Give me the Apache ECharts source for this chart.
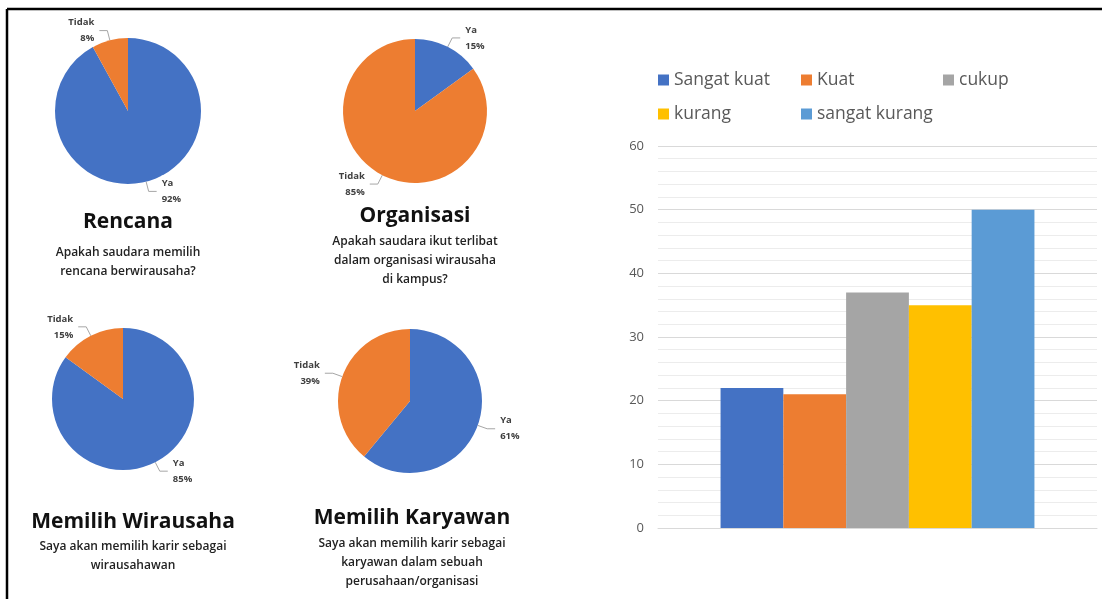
<!DOCTYPE html>
<html>
<head>
<meta charset="utf-8">
<script src="https://cdn.jsdelivr.net/npm/echarts@6/dist/echarts.min.js"></script>
<style>
html,body{margin:0;padding:0;background:#fff;}
#c{width:1103px;height:599px;}
</style>
</head>
<body>
<div id="c"></div>
<script>
// ---- data ----
var pieLabels = ['Ya', 'Tidak'];
var rencanaValues = [92, 8];
var organisasiValues = [15, 85];
var wirausahaValues = [85, 15];
var karyawanValues = [61, 39];

var pieTitles = ['Rencana', 'Organisasi', 'Memilih Wirausaha', 'Memilih Karyawan'];
var pieSubtitles = [
  'Apakah saudara memilih\nrencana berwirausaha?',
  'Apakah saudara ikut terlibat\ndalam organisasi wirausaha\ndi kampus?',
  'Saya akan memilih karir sebagai\nwirausahawan',
  'Saya akan memilih karir sebagai\nkaryawan dalam sebuah\nperusahaan/organisasi'
];

var barCategories = [''];
var barSeriesNames = ['Sangat kuat', 'Kuat', 'cukup', 'kurang', 'sangat kurang'];
var barValues = [22, 21, 37, 35, 50];
var yTicks = [0, 10, 20, 30, 40, 50, 60];

// ---- styles ----
var FONT = "'Open Sans', 'Noto Sans', sans-serif";
var pieColors = ['#4472C4', '#ED7D31'];
var barColors = ['#4472C4', '#ED7D31', '#A5A5A5', '#FFC000', '#5B9BD5'];

var pieLayout = [
  {center: [128, 111], r: 73, title: [128, 222], sub: [128, 243]},
  {center: [415, 111], r: 72, title: [415, 216], sub: [415, 232]},
  {center: [123, 399], r: 71, title: [133, 522], sub: [133, 537]},
  {center: [410, 401], r: 72, title: [412, 518], sub: [412, 534]}
];
var pieValueSets = [rencanaValues, organisasiValues, wirausahaValues, karyawanValues];

var series = [];
pieValueSets.forEach(function (vals, i) {
  series.push({
    type: 'pie',
    center: pieLayout[i].center,
    radius: pieLayout[i].r,
    startAngle: 90,
    clockwise: true,
    silent: true,
    data: pieLabels.map(function (n, k) {
      return {name: n, value: vals[k], itemStyle: {color: pieColors[k]}};
    }),
    label: {
      show: true,
      position: 'outside',
      formatter: '{b}\n{c}%',
      fontFamily: FONT,
      fontSize: 9.5,
      fontWeight: 'bold',
      color: '#404040',
      lineHeight: 16,
      backgroundColor: '#fff'
    },
    labelLine: {show: true, length: 10, length2: 8, lineStyle: {color: '#a6a6a6', width: 1}},
    itemStyle: {borderWidth: 0}
  });
});

barSeriesNames.forEach(function (n, i) {
  series.push({
    type: 'bar',
    name: n,
    xAxisIndex: 0,
    yAxisIndex: 0,
    data: [barValues[i]],
    itemStyle: {color: barColors[i]},
    barGap: '0%',
    barCategoryGap: '28.5%'
  });
});

var legendPos = [[658, 71], [801, 71], [943, 71], [658, 105], [801, 105]];
var legends = barSeriesNames.map(function (n, i) {
  return {
    data: [n],
    left: legendPos[i][0],
    top: legendPos[i][1],
    icon: 'rect',
    itemWidth: 11,
    itemHeight: 11,
    itemGap: 0,
    padding: 0,
    selectedMode: false,
    textStyle: {fontFamily: FONT, fontSize: 17.5, color: '#595959', padding: [0, 0, 0, 0]}
  };
});

var graphics = [
  {type: 'line', shape: {x1: 7, y1: 9, x2: 1102, y2: 9}, style: {stroke: '#000', lineWidth: 2.5}},
  {type: 'line', shape: {x1: 7, y1: 9, x2: 7, y2: 599}, style: {stroke: '#000', lineWidth: 2.5}}
];
pieTitles.forEach(function (t, i) {
  graphics.push({
    type: 'text', x: pieLayout[i].title[0], y: pieLayout[i].title[1],
    style: {text: t, fontFamily: FONT, fontSize: 21, fontWeight: 'bold', fill: '#111', textAlign: 'center', textVerticalAlign: 'middle'}
  });
  graphics.push({
    type: 'text', x: pieLayout[i].sub[0], y: pieLayout[i].sub[1],
    style: {text: pieSubtitles[i], fontFamily: FONT, fontSize: 12, fontWeight: 600, fill: '#222', textAlign: 'center', textVerticalAlign: 'top', lineHeight: 19}
  });
});

var chart = echarts.init(document.getElementById('c'));
chart.setOption({
  backgroundColor: '#fff',
  animation: false,
  legend: legends,
  grid: {left: 658, right: 6, top: 146, bottom: 71, containLabel: false},
  xAxis: {
    type: 'category',
    data: barCategories,
    axisLine: {show: true, lineStyle: {color: '#d9d9d9'}},
    axisTick: {show: false},
    axisLabel: {show: false}
  },
  yAxis: {
    type: 'value',
    min: yTicks[0],
    max: yTicks[yTicks.length - 1],
    interval: 10,
    axisLine: {show: false},
    axisTick: {show: false},
    axisLabel: {fontFamily: FONT, fontSize: 13, color: '#595959', margin: 14},
    splitLine: {show: true, lineStyle: {color: '#d9d9d9', width: 1}},
    minorTick: {show: false, splitNumber: 5},
    minorSplitLine: {show: true, lineStyle: {color: '#ececec', width: 1}}
  },
  graphic: graphics,
  series: series
});
</script>
</body>
</html>
